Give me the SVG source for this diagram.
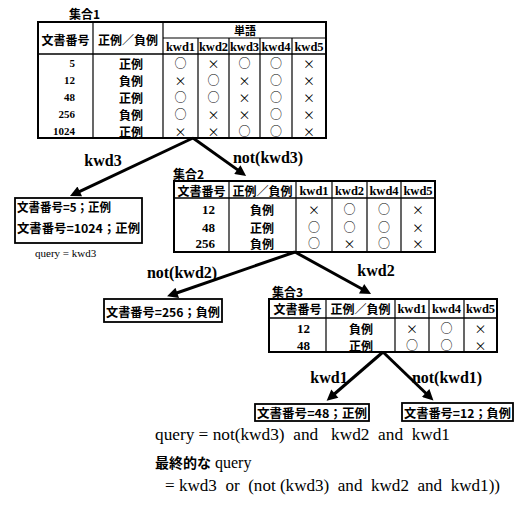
<svg xmlns="http://www.w3.org/2000/svg" width="525" height="505" viewBox="0 0 525 505">
<style>
  .bg{fill:#fff}
  .outer{fill:none;stroke:#000;stroke-width:2}
  .grid{stroke:#000;stroke-width:1.2;fill:none}
  .hdr{stroke:#000;stroke-width:1.6}
  .box{fill:#fff;stroke:#000;stroke-width:1.8}
  text{font-family:"Liberation Serif","Noto Sans CJK JP",serif;font-weight:bold;fill:#000}
  .jp{font-family:"Noto Sans CJK JP","Liberation Sans",sans-serif;font-size:12px}
  .kw{font-size:12.5px}
  .num1{font-size:11px}
  .num{font-size:13px}
  .mk{font-family:"Noto Sans CJK JP",sans-serif;font-size:12px;font-weight:normal}
  .o{transform:translateY(-1px)}
  .c{text-anchor:middle;dominant-baseline:central}
  .r{text-anchor:end;dominant-baseline:central}
  .l{dominant-baseline:central}
  .lab{font-size:16px}
  .title{font-family:"Noto Sans CJK JP",sans-serif;font-size:12px}
  .foot{font-size:16px;font-weight:normal}
  .conn{stroke:#000;stroke-width:3;fill:none;marker-end:url(#ah)}
</style>
<defs>
  <marker id="ah" viewBox="0 0 10 10" refX="2" refY="5" markerWidth="4.5" markerHeight="3.6" orient="auto">
    <path d="M0,0 L10,5 L0,10 z" fill="#000"/>
  </marker>
</defs>
<rect class="bg" x="0" y="0" width="525" height="505"/>

<g id="set1">
  <text class="title l" x="69" y="13">集合1</text>
  <rect class="outer" x="38" y="22" width="288" height="116"/>
  <line class="grid" x1="93" y1="22" x2="93" y2="138"/>
  <line class="grid" x1="163" y1="22" x2="163" y2="138"/>
  <line class="grid" x1="163" y1="38" x2="326" y2="38"/>
  <line class="grid" x1="198" y1="38" x2="198" y2="138"/>
  <line class="grid" x1="229" y1="38" x2="229" y2="138"/>
  <line class="grid" x1="260" y1="38" x2="260" y2="138"/>
  <line class="grid" x1="292" y1="38" x2="292" y2="138"/>
  <line class="hdr" x1="38" y1="54" x2="326" y2="54"/>
  <text class="jp c" x="65.5" y="39">文書番号</text>
  <text class="jp c" x="128" y="39">正例／負例</text>
  <text class="jp c" x="245" y="30" style="font-size:11px">単語</text>
  <text class="kw c" x="180.5" y="46.5">kwd1</text>
  <text class="kw c" x="213.5" y="46.5">kwd2</text>
  <text class="kw c" x="244.5" y="46.5">kwd3</text>
  <text class="kw c" x="276" y="46.5">kwd4</text>
  <text class="kw c" x="309" y="46.5">kwd5</text>
  <text class="num1 r" x="75" y="63">5</text>
  <text class="num1 r" x="75" y="80">12</text>
  <text class="num1 r" x="75" y="97">48</text>
  <text class="num1 r" x="75" y="114">256</text>
  <text class="num1 r" x="75" y="131">1024</text>
  <text class="jp c" x="131" y="63">正例</text>
  <text class="jp c" x="131" y="80">負例</text>
  <text class="jp c" x="131" y="97">正例</text>
  <text class="jp c" x="131" y="114">負例</text>
  <text class="jp c" x="131" y="131">正例</text>
  <text class="mk c o" x="180.5" y="63">○</text><text class="mk c" x="213.5" y="63">×</text><text class="mk c o" x="244.5" y="63">○</text><text class="mk c o" x="276" y="63">○</text><text class="mk c" x="309" y="63">×</text>
  <text class="mk c" x="180.5" y="80">×</text><text class="mk c o" x="213.5" y="80">○</text><text class="mk c" x="244.5" y="80">×</text><text class="mk c o" x="276" y="80">○</text><text class="mk c" x="309" y="80">×</text>
  <text class="mk c o" x="180.5" y="97">○</text><text class="mk c o" x="213.5" y="97">○</text><text class="mk c" x="244.5" y="97">×</text><text class="mk c o" x="276" y="97">○</text><text class="mk c" x="309" y="97">×</text>
  <text class="mk c o" x="180.5" y="114">○</text><text class="mk c" x="213.5" y="114">×</text><text class="mk c" x="244.5" y="114">×</text><text class="mk c o" x="276" y="114">○</text><text class="mk c" x="309" y="114">×</text>
  <text class="mk c" x="180.5" y="131">×</text><text class="mk c" x="213.5" y="131">×</text><text class="mk c o" x="244.5" y="131">○</text><text class="mk c o" x="276" y="131">○</text><text class="mk c" x="309" y="131">×</text>
</g>

<g id="result1">
  <rect class="box" x="15" y="198" width="127" height="45"/>
  <text class="jp l" x="17" y="206" textLength="94" lengthAdjust="spacingAndGlyphs">文書番号=5；正例</text>
  <text class="jp l" x="17" y="227" textLength="123" lengthAdjust="spacingAndGlyphs">文書番号=1024；正例</text>
  <text class="l" x="35" y="253" style="font-size:11px;font-weight:normal">query = kwd3</text>
</g>

<g id="set2">
  <text class="title l" x="173" y="173">集合2</text>
  <rect class="outer" x="174" y="181" width="261" height="71"/>
  <line class="grid" x1="229" y1="181" x2="229" y2="252"/>
  <line class="grid" x1="296" y1="181" x2="296" y2="252"/>
  <line class="grid" x1="332" y1="181" x2="332" y2="252"/>
  <line class="grid" x1="367" y1="181" x2="367" y2="252"/>
  <line class="grid" x1="401" y1="181" x2="401" y2="252"/>
  <line class="hdr" x1="174" y1="198" x2="435" y2="198"/>
  <text class="jp c" x="201.5" y="190">文書番号</text>
  <text class="jp c" x="262.5" y="190">正例／負例</text>
  <text class="kw c" x="314" y="190.5">kwd1</text>
  <text class="kw c" x="349.5" y="190.5">kwd2</text>
  <text class="kw c" x="384" y="190.5">kwd4</text>
  <text class="kw c" x="418" y="190.5">kwd5</text>
  <text class="num r" x="215" y="209">12</text>
  <text class="num r" x="215" y="227">48</text>
  <text class="num r" x="215" y="243.5">256</text>
  <text class="jp c" x="262" y="209">負例</text>
  <text class="jp c" x="262" y="227">正例</text>
  <text class="jp c" x="262" y="243.5">負例</text>
  <text class="mk c" x="314" y="209">×</text><text class="mk c o" x="349.5" y="209">○</text><text class="mk c o" x="384" y="209">○</text><text class="mk c" x="418" y="209">×</text>
  <text class="mk c o" x="314" y="227">○</text><text class="mk c o" x="349.5" y="227">○</text><text class="mk c o" x="384" y="227">○</text><text class="mk c" x="418" y="227">×</text>
  <text class="mk c o" x="314" y="243.5">○</text><text class="mk c" x="349.5" y="243.5">×</text><text class="mk c o" x="384" y="243.5">○</text><text class="mk c" x="418" y="243.5">×</text>
</g>

<g id="result2">
  <rect class="box" x="104" y="299" width="118" height="23"/>
  <text class="jp l" x="106" y="311" textLength="114" lengthAdjust="spacingAndGlyphs">文書番号=256；負例</text>
</g>

<g id="set3">
  <text class="title l" x="272" y="291">集合3</text>
  <rect class="outer" x="269" y="299" width="228" height="53"/>
  <line class="grid" x1="326" y1="299" x2="326" y2="352"/>
  <line class="grid" x1="395" y1="299" x2="395" y2="352"/>
  <line class="grid" x1="429" y1="299" x2="429" y2="352"/>
  <line class="grid" x1="464" y1="299" x2="464" y2="352"/>
  <line class="hdr" x1="269" y1="318" x2="497" y2="318"/>
  <text class="jp c" x="297.5" y="308.5">文書番号</text>
  <text class="jp c" x="360.5" y="308.5">正例／負例</text>
  <text class="kw c" x="412" y="309">kwd1</text>
  <text class="kw c" x="446.5" y="309">kwd4</text>
  <text class="kw c" x="480.5" y="309">kwd5</text>
  <text class="num r" x="310" y="328">12</text>
  <text class="num r" x="310" y="345">48</text>
  <text class="jp c" x="361" y="328">負例</text>
  <text class="jp c" x="361" y="345">正例</text>
  <text class="mk c" x="412" y="328">×</text><text class="mk c o" x="446.5" y="328">○</text><text class="mk c" x="480.5" y="328">×</text>
  <text class="mk c o" x="412" y="345">○</text><text class="mk c o" x="446.5" y="345">○</text><text class="mk c" x="480.5" y="345">×</text>
</g>

<g id="result3">
  <rect class="box" x="255" y="404" width="114" height="17"/>
  <text class="jp l" x="257" y="412.5" textLength="110" lengthAdjust="spacingAndGlyphs">文書番号=48；正例</text>
</g>

<g id="result4">
  <rect class="box" x="402" y="403" width="111" height="18"/>
  <text class="jp l" x="404" y="412" textLength="107" lengthAdjust="spacingAndGlyphs">文書番号=12；負例</text>
</g>

<g id="connectors">
  <line class="conn" x1="193" y1="138" x2="77.8" y2="192.4"/>
  <line class="conn" x1="193" y1="138" x2="239.1" y2="170.9"/>
  <line class="conn" x1="295" y1="252" x2="175.2" y2="293.5"/>
  <line class="conn" x1="295" y1="252" x2="363.5" y2="289.8"/>
  <line class="conn" x1="383" y1="352" x2="333.2" y2="395"/>
  <line class="conn" x1="383" y1="352" x2="427.2" y2="394.5"/>
  <text class="lab c" x="103" y="160">kwd3</text>
  <text class="lab c" x="268" y="157">not(kwd3)</text>
  <text class="lab c" x="182" y="272">not(kwd2)</text>
  <text class="lab c" x="376" y="270">kwd2</text>
  <text class="lab c" x="329" y="377">kwd1</text>
  <text class="lab c" x="447" y="377">not(kwd1)</text>
</g>

<g id="footer">
  <text class="foot" x="155" y="440" textLength="295" lengthAdjust="spacingAndGlyphs" xml:space="preserve">query = not(kwd3)  and   kwd2  and  kwd1</text>
  <text class="foot" x="155" y="468"><tspan style="font-family:'Noto Sans CJK JP',sans-serif;font-size:14px;font-weight:bold">最終的な</tspan> query</text>
  <text class="foot" x="165" y="491" textLength="335" lengthAdjust="spacingAndGlyphs" xml:space="preserve">= kwd3  or  (not (kwd3)  and  kwd2  and  kwd1))</text>
</g>
</svg>
